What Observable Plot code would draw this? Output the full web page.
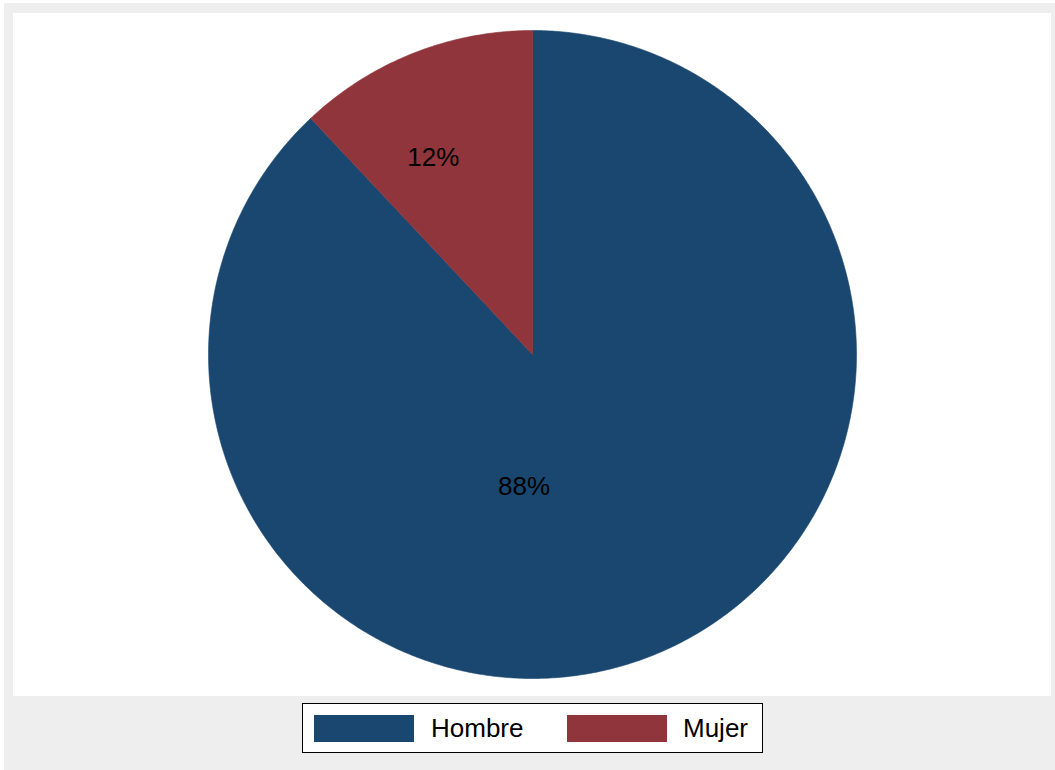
<!DOCTYPE html>
<html>
<head>
<meta charset="utf-8">
<script src="https://cdn.jsdelivr.net/npm/d3@7"></script>
<script src="https://cdn.jsdelivr.net/npm/@observablehq/plot@0.6"></script>
<style>
  html, body { margin: 0; padding: 0; background: #ffffff; }
  body { width: 1055px; height: 770px; position: relative; overflow: hidden; font-family: "Liberation Sans", Arial, sans-serif; }
  #frame { position: absolute; left: 4px; top: 3px; width: 1051px; height: 767px; background: #eeeeee; }
  #plot { position: absolute; left: 9px; top: 10px; width: 1038px; height: 683px; background: #ffffff; }
  #legend { position: absolute; left: 298px; top: 700px; width: 461px; height: 50px; box-sizing: border-box; border: 1.4px solid #000; background: #fff; }
  .sw { position: absolute; top: 11px; width: 100px; height: 27px; }
  .lt { position: absolute; top: 11px; font-size: 26px; line-height: 26px; color: #000; white-space: nowrap; }
</style>
</head>
<body>
<div id="frame">
  <div id="plot"></div>
  <div id="legend"></div>
</div>
<script>
// ---- data ----
const categories = ["Hombre", "Mujer"];
const values = [88, 12];            // percent
const pieLabels = ["88%", "12%"];
const colors = ["#1a476f", "#90353b"];

// ---- build slice polygons (geometry derived from values) ----
const total = d3.sum(values);
const slices = [];
const labelRows = [];
let cum = 0;
categories.forEach((cat, i) => {
  const a0 = cum / total * 2 * Math.PI;
  cum += values[i];
  const a1 = cum / total * 2 * Math.PI;
  const steps = Math.max(2, Math.ceil((a1 - a0) / (Math.PI / 360)));
  slices.push({cat, x: 0, y: 0});
  for (let k = 0; k <= steps; k++) {
    const a = a0 + (a1 - a0) * k / steps;
    slices.push({cat, x: Math.sin(a), y: Math.cos(a)});
  }
  slices.push({cat, x: 0, y: 0});
  const mid = (a0 + a1) / 2;
  const f = i === 0 ? 0.41 : 0.68;
  const adj = i === 0 ? 0.44 : -0.09;
  labelRows.push({cat, label: pieLabels[i], x: f * Math.sin(mid + adj), y: f * Math.cos(mid + adj)});
});

const chart = Plot.plot({
  width: 1038,
  height: 683,
  margin: 0,
  style: {background: "#ffffff"},
  x: {domain: [-1, 1], range: [195, 843], axis: null},
  y: {domain: [-1, 1], range: [665, 17], axis: null},
  color: {domain: categories, range: colors},
  marks: [
    Plot.line(slices, {x: "x", y: "y", z: "cat", fill: "cat", stroke: "cat", strokeWidth: 0.6}),
    Plot.text(labelRows, {x: "x", y: "y", text: "label", fill: "#000", fontSize: 26, fontFamily: "Liberation Sans, Arial, sans-serif", textAnchor: "middle"})
  ]
});
document.getElementById("plot").appendChild(chart);

// ---- legend (HTML, below plot region) ----
const legend = document.getElementById("legend");
const swLeft = [11, 264];
const txLeft = [128, 380];
categories.forEach((cat, i) => {
  const s = document.createElement("div");
  s.className = "sw";
  s.style.left = swLeft[i] + "px";
  s.style.background = colors[i];
  legend.appendChild(s);
  const t = document.createElement("div");
  t.className = "lt";
  t.style.left = txLeft[i] + "px";
  t.textContent = cat;
  legend.appendChild(t);
});
</script>
</body>
</html>
